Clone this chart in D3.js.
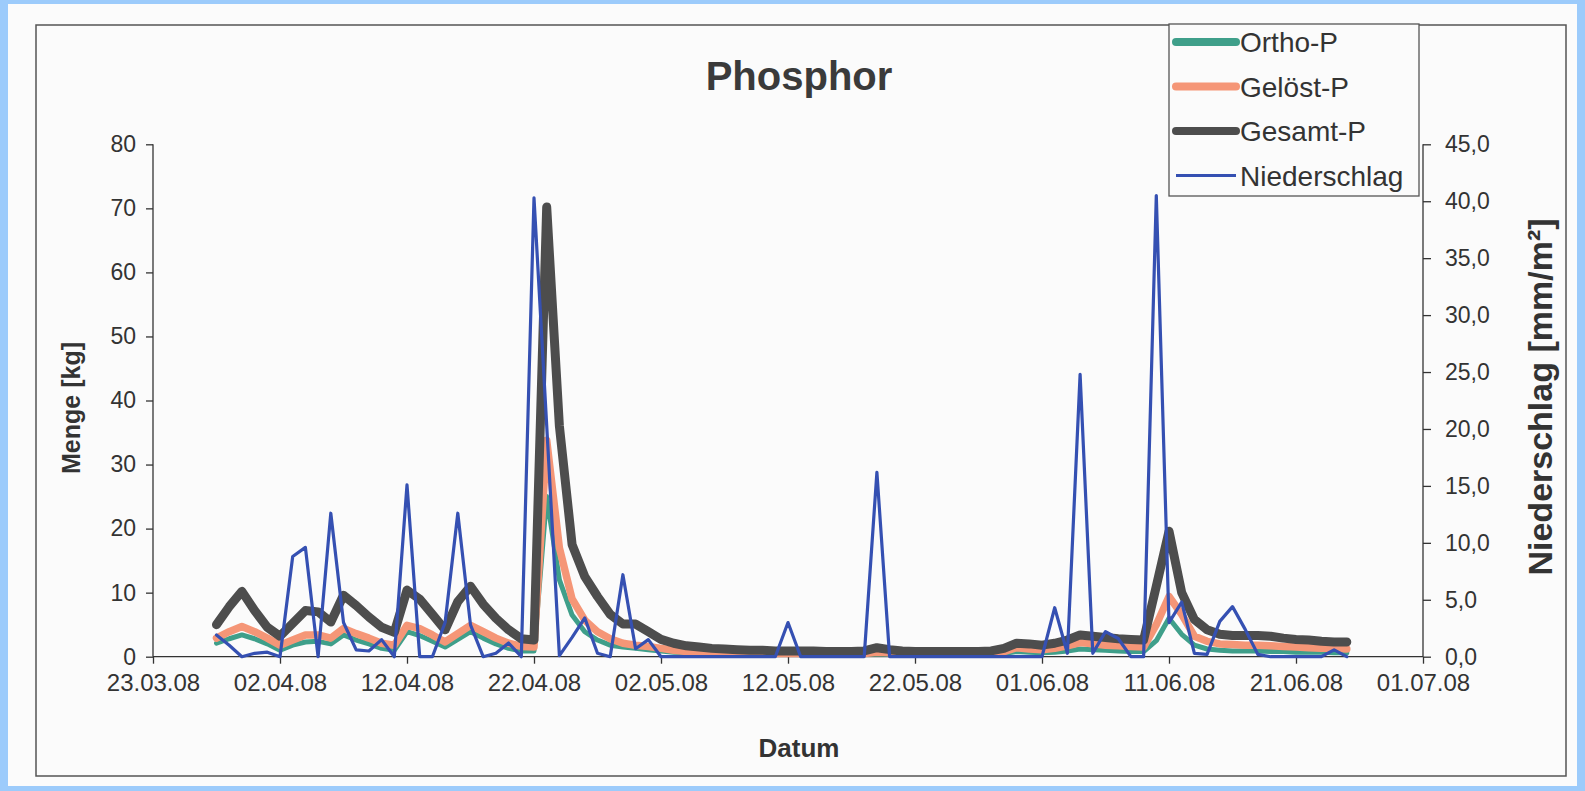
<!DOCTYPE html>
<html>
<head>
<meta charset="utf-8">
<script src="https://cdn.jsdelivr.net/npm/d3@7"></script>
<style>
  body { margin: 0; background: #9ccbfb; }
  svg { display: block; font-family: "Liberation Sans", Arial, sans-serif; }
</style>
</head>
<body>
<svg id="chart" width="1585" height="791"></svg>
<script>
// daily values 28.03.08 - 25.06.08
var ortho = [2.1, 2.8, 3.4, 2.8, 2.0, 1.0, 1.8, 2.3, 2.4, 2.0,
  3.4, 2.6, 2.0, 1.3, 1.0, 3.9, 3.3, 2.4, 1.5, 2.7,
  3.9, 2.9, 2.0, 1.3, 0.9, 0.9, 25.0, 12.0, 6.5, 3.9,
  2.6, 1.8, 1.5, 1.3, 1.1, 0.9, 0.7, 0.6, 0.5, 0.4,
  0.4, 0.4, 0.4, 0.4, 0.4, 0.4, 0.4, 0.4, 0.4, 0.4,
  0.4, 0.4, 0.4, 0.4, 0.4, 0.4, 0.4, 0.4, 0.4, 0.4,
  0.4, 0.4, 0.5, 0.8, 0.7, 0.6, 0.7, 0.9, 1.2, 1.1,
  1.0, 0.9, 0.8, 0.8, 2.5, 6.0, 3.5, 1.8, 1.2, 1.0,
  0.9, 0.9, 0.9, 0.8, 0.8, 0.7, 0.7, 0.7, 0.6, 0.6];

var geloest = [2.9, 3.9, 4.7, 3.9, 2.9, 1.8, 2.6, 3.4, 3.4, 2.9,
  4.4, 3.6, 2.9, 2.1, 1.8, 4.9, 4.4, 3.4, 2.3, 3.6,
  4.9, 3.9, 2.9, 2.1, 1.6, 1.5, 33.8, 17.0, 9.0, 5.7,
  3.9, 2.8, 2.1, 1.8, 1.6, 1.3, 1.0, 0.8, 0.7, 0.6,
  0.6, 0.5, 0.5, 0.5, 0.5, 0.5, 0.5, 0.5, 0.5, 0.5,
  0.5, 0.5, 0.7, 0.6, 0.5, 0.5, 0.5, 0.5, 0.5, 0.5,
  0.5, 0.5, 0.8, 1.4, 1.2, 1.1, 1.3, 1.7, 2.2, 2.0,
  1.8, 1.7, 1.6, 1.5, 5.0, 9.4, 6.6, 3.2, 2.4, 2.0,
  1.9, 1.8, 1.8, 1.7, 1.6, 1.5, 1.4, 1.3, 1.3, 1.2];

var gesamt = [5.0, 7.8, 10.2, 7.2, 4.6, 3.2, 5.2, 7.2, 7.0, 5.4,
  9.6, 8.0, 6.2, 4.6, 3.8, 10.4, 9.0, 6.6, 4.2, 8.6,
  11.0, 8.2, 6.0, 4.2, 2.8, 2.6, 70.2, 36.0, 17.5, 12.5,
  9.4, 6.6, 5.1, 5.1, 3.9, 2.7, 2.1, 1.7, 1.5, 1.3,
  1.2, 1.1, 1.0, 1.0, 0.9, 0.9, 0.9, 0.9, 0.8, 0.8,
  0.8, 0.9, 1.4, 1.1, 0.9, 0.8, 0.8, 0.8, 0.8, 0.8,
  0.8, 0.9, 1.3, 2.1, 2.0, 1.8, 2.1, 2.6, 3.4, 3.2,
  3.0, 2.8, 2.7, 2.6, 11.0, 19.6, 10.0, 5.8, 4.2, 3.5,
  3.3, 3.3, 3.3, 3.2, 2.9, 2.7, 2.6, 2.4, 2.3, 2.3];

var niederschlag = [1.9, 1.0, 0, 0.3, 0.4, 0, 8.8, 9.6, 0, 12.6,
  3.0, 0.6, 0.5, 1.5, 0, 15.1, 0, 0, 3.0, 12.6,
  2.8, 0, 0.3, 1.2, 0, 40.3, 20.3, 0.1, 1.7, 3.4,
  0.3, 0, 7.2, 0.7, 1.5, 0, 0, 0, 0, 0,
  0, 0, 0, 0, 0, 3.0, 0, 0, 0, 0,
  0, 0, 16.2, 0, 0, 0, 0, 0, 0, 0,
  0, 0, 0, 0, 0, 0, 4.3, 0.3, 24.8, 0.3,
  2.2, 1.6, 0, 0, 40.5, 3.0, 4.8, 0.3, 0.2, 3.1,
  4.4, 2.4, 0.2, 0, 0, 0, 0, 0, 0.6, 0];

var xTicks = ["23.03.08", "02.04.08", "12.04.08", "22.04.08", "02.05.08",
  "12.05.08", "22.05.08", "01.06.08", "11.06.08", "21.06.08", "01.07.08"];
var yLeftTicks = [0, 10, 20, 30, 40, 50, 60, 70, 80];
var yRightTicks = [0, 5, 10, 15, 20, 25, 30, 35, 40, 45];

var parse = d3.utcParse("%d.%m.%y");
var dates = d3.utcDay.range(parse("28.03.08"), parse("26.06.08"));

var series = [
  {name: "Ortho-P", values: ortho, color: "#3f9f8a", width: 5, axis: "L"},
  {name: "Gelöst-P", values: geloest, color: "#f59677", width: 7.5, axis: "L"},
  {name: "Gesamt-P", values: gesamt, color: "#4d4d4d", width: 9, axis: "L"},
  {name: "Niederschlag", values: niederschlag, color: "#3550b2", width: 3.2, axis: "R"}
];

var svg = d3.select("#chart");
var textCol = "#333";

svg.append("rect").attr("x", 8).attr("y", 4).attr("width", 1569).attr("height", 782)
  .attr("fill", "#fbfbfb");
svg.append("rect").attr("x", 36).attr("y", 25).attr("width", 1530).attr("height", 751)
  .attr("fill", "none").attr("stroke", "#555").attr("stroke-width", 1.5);

var x = d3.scaleUtc()
  .domain([parse(xTicks[0]), parse(xTicks[xTicks.length - 1])])
  .range([153, 1423]);
var yL = d3.scaleLinear().domain([0, 80]).range([656.7, 144.3]);
var yR = d3.scaleLinear().domain([0, 45]).range([656.7, 144.3]);

// axes
var gx = svg.append("g").attr("transform", "translate(0,656.7)")
  .call(d3.axisBottom(x).tickValues(xTicks.map(parse))
    .tickFormat(d3.utcFormat("%d.%m.%y")).tickSize(7).tickPadding(10));
var gl = svg.append("g").attr("transform", "translate(153,0)")
  .call(d3.axisLeft(yL).tickValues(yLeftTicks).tickSize(7).tickPadding(10));
var gr = svg.append("g").attr("transform", "translate(1423,0)")
  .call(d3.axisRight(yR).tickValues(yRightTicks).tickSize(8).tickPadding(14)
    .tickFormat(function(d) { return d3.format(".1f")(d).replace(".", ","); }));

[gx, gl, gr].forEach(function(g) {
  g.selectAll(".domain").attr("stroke", "#333").attr("stroke-width", 1.3);
  g.selectAll(".tick line").attr("stroke", "#333").attr("stroke-width", 1.3);
  g.selectAll(".tick text").attr("fill", textCol).style("font-size", "23px")
    .style("font-family", "'Liberation Sans', Arial, sans-serif");
});
gx.selectAll(".tick text").style("font-size", "24px");
gx.select(".domain").attr("d", "M153,0H1423");
gl.select(".domain").attr("d", "M0,144.3V656.7");
gr.select(".domain").attr("d", "M0,144.3V656.7");

// lines
var plot = svg.append("g");
series.forEach(function(s) {
  var y = s.axis === "L" ? yL : yR;
  var line = d3.line()
    .x(function(d, i) { return x(dates[i]); })
    .y(function(d) { return y(d); });
  plot.append("path")
    .datum(s.values)
    .attr("d", line)
    .attr("fill", "none")
    .attr("stroke", s.color)
    .attr("stroke-width", s.width)
    .attr("stroke-linejoin", "round")
    .attr("stroke-linecap", "round");
});

// titles
svg.append("text").attr("x", 799).attr("y", 90).attr("text-anchor", "middle")
  .attr("font-size", 40).attr("font-weight", "bold").attr("fill", "#3a3a3a").text("Phosphor");
svg.append("text").attr("x", 799).attr("y", 757).attr("text-anchor", "middle")
  .attr("font-size", 26).attr("font-weight", "bold").attr("fill", textCol).text("Datum");
svg.append("text").attr("transform", "translate(80,408) rotate(-90)").attr("text-anchor", "middle")
  .attr("font-size", 25).attr("font-weight", "bold").attr("fill", textCol).text("Menge [kg]");
svg.append("text").attr("transform", "translate(1552,397) rotate(-90)").attr("text-anchor", "middle")
  .attr("font-size", 34).attr("font-weight", "bold").attr("fill", textCol).text("Niederschlag [mm/m²]");

// legend
var lg = svg.append("g");
lg.append("rect").attr("x", 1169).attr("y", 24).attr("width", 250).attr("height", 172)
  .attr("fill", "#fbfbfb").attr("stroke", "#555").attr("stroke-width", 1.3);
series.forEach(function(s, i) {
  var yy = 42 + i * 44.5;
  lg.append("line").attr("x1", 1176).attr("x2", 1236).attr("y1", yy).attr("y2", yy)
    .attr("stroke", s.color).attr("stroke-width", s.axis === "R" ? 3 : 8)
    .attr("stroke-linecap", s.axis === "R" ? "butt" : "round");
  lg.append("text").attr("x", 1240).attr("y", yy + 10).attr("font-size", 28)
    .attr("fill", textCol).text(s.name);
});
</script>
</body>
</html>
